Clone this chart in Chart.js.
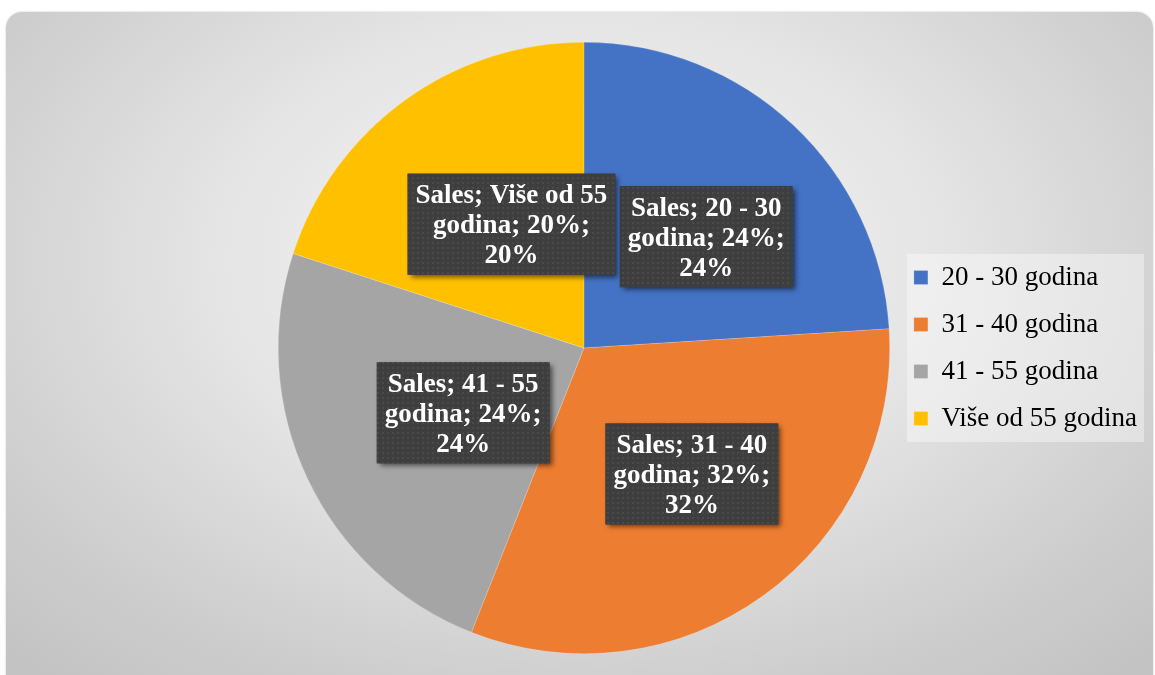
<!DOCTYPE html>
<html>
<head>
<meta charset="utf-8">
<script src="https://cdn.jsdelivr.net/npm/chart.js@4"></script>
<style>
  html, body { margin: 0; padding: 0; background: #ffffff; width: 1155px; height: 675px; overflow: hidden; }
  #panel {
    position: absolute; left: 6px; top: 12px; width: 1147px; height: 690px;
    border-radius: 16px;
    background: radial-gradient(ellipse 72% 80% at 50% 36%, #f8f8f8 0%, #e4e4e4 45%, #cdcdcd 80%, #c3c3c3 100%);
    box-shadow: 0 0 2px rgba(0,0,0,0.25);
  }
  #c { position: absolute; left: 0; top: 0; }
</style>
</head>
<body>
<div id="panel"></div>
<canvas id="c" width="1155" height="675"></canvas>
<script>
// ---- data ----
const seriesName = 'Sales';
const categories = ['20 - 30 godina', '31 - 40 godina', '41 - 55 godina', 'Više od 55 godina'];
const values = [24, 32, 24, 20]; // percent
const colors = ['#4472C4', '#ED7D31', '#A5A5A5', '#FFC000'];

// label box anchors relative to pie centre, in units of pie radius
const labelAnchors = [[0.400, -0.364], [0.353, 0.412], [-0.395, 0.212], [-0.237, -0.405]];

function makePattern(ctx) {
  const p = document.createElement('canvas');
  p.width = 5; p.height = 5;
  const g = p.getContext('2d');
  g.fillStyle = '#3e3e3e';
  g.fillRect(0, 0, 5, 5);
  g.fillStyle = '#4a4a4a';
  g.fillRect(2, 2, 2, 2);
  return ctx.createPattern(p, 'repeat');
}

function wrap(ctx, text, maxW) {
  const words = text.split(' ');
  const lines = [];
  let cur = '';
  for (const w of words) {
    const t = cur ? cur + ' ' + w : w;
    if (cur && ctx.measureText(t).width > maxW) { lines.push(cur); cur = w; }
    else cur = t;
  }
  if (cur) lines.push(cur);
  return lines;
}

const legendBg = {
  id: 'legendBg',
  beforeDraw(chart) {
    const lg = chart.legend;
    if (!lg || !lg.legendHitBoxes || !lg.legendHitBoxes.length) return;
    const hb = lg.legendHitBoxes;
    let l = Infinity, r = -Infinity, t = Infinity, b = -Infinity;
    hb.forEach(h => { l = Math.min(l, h.left); r = Math.max(r, h.left + h.width); t = Math.min(t, h.top); b = Math.max(b, h.top + h.height); });
    const ctx = chart.ctx;
    ctx.save();
    ctx.fillStyle = 'rgba(255,255,255,0.38)';
    ctx.fillRect(l - 7, t - 10, (r - l) + 14, (b - t) + 20);
    ctx.restore();
  }
};

const pieLabels = {
  id: 'pieLabels',
  afterDatasetsDraw(chart) {
    const ctx = chart.ctx;
    const meta = chart.getDatasetMeta(0);
    const total = values.reduce((a, b) => a + b, 0);
    const pattern = makePattern(ctx);
    ctx.save();
    ctx.font = 'bold 27px "Liberation Serif", "Times New Roman", serif';
    meta.data.forEach((arc, i) => {
      const R = arc.outerRadius;
      const cx = arc.x + labelAnchors[i][0] * R;
      const cy = arc.y + labelAnchors[i][1] * R;
      const pct = Math.round(values[i] / total * 100);
      const text = `${seriesName}; ${categories[i]}; ${values[i]}%; ${pct}%`;
      const lines = wrap(ctx, text, 200);
      const lh = 30;
      const w = Math.max(...lines.map(s => ctx.measureText(s).width)) + 16;
      const h = lines.length * lh + 11;
      const x = cx - w / 2, y = cy - h / 2;
      ctx.save();
      ctx.shadowColor = 'rgba(0,0,0,0.55)';
      ctx.shadowBlur = 5;
      ctx.shadowOffsetX = 3;
      ctx.shadowOffsetY = 3;
      ctx.fillStyle = '#3e3e3e';
      ctx.fillRect(x, y, w, h);
      ctx.restore();
      ctx.fillStyle = pattern;
      ctx.fillRect(x, y, w, h);
      ctx.fillStyle = '#ffffff';
      ctx.textAlign = 'center';
      ctx.textBaseline = 'middle';
      lines.forEach((s, k) => {
        ctx.fillText(s, cx, cy + (k - (lines.length - 1) / 2) * lh + 2);
      });
    });
    ctx.restore();
  }
};

new Chart(document.getElementById('c'), {
  type: 'pie',
  data: {
    labels: categories,
    datasets: [{
      label: seriesName,
      data: values,
      backgroundColor: colors,
      borderColor: 'rgba(255,255,255,0.35)',
      borderWidth: 0.5
    }]
  },
  options: {
    responsive: false,
    animation: false,
    devicePixelRatio: 1,
    events: [],
    layout: { padding: { left: 274, right: 8, top: 42, bottom: 21 } },
    plugins: {
      tooltip: { enabled: false },
      legend: {
        position: 'right',
        align: 'center',
        labels: {
          boxWidth: 14,
          boxHeight: 14,
          padding: 20,
          color: '#000000',
          font: { family: '"Liberation Serif", "Times New Roman", serif', size: 27, weight: 'normal' }
        }
      }
    }
  },
  plugins: [legendBg, pieLabels]
});
</script>
</body>
</html>
